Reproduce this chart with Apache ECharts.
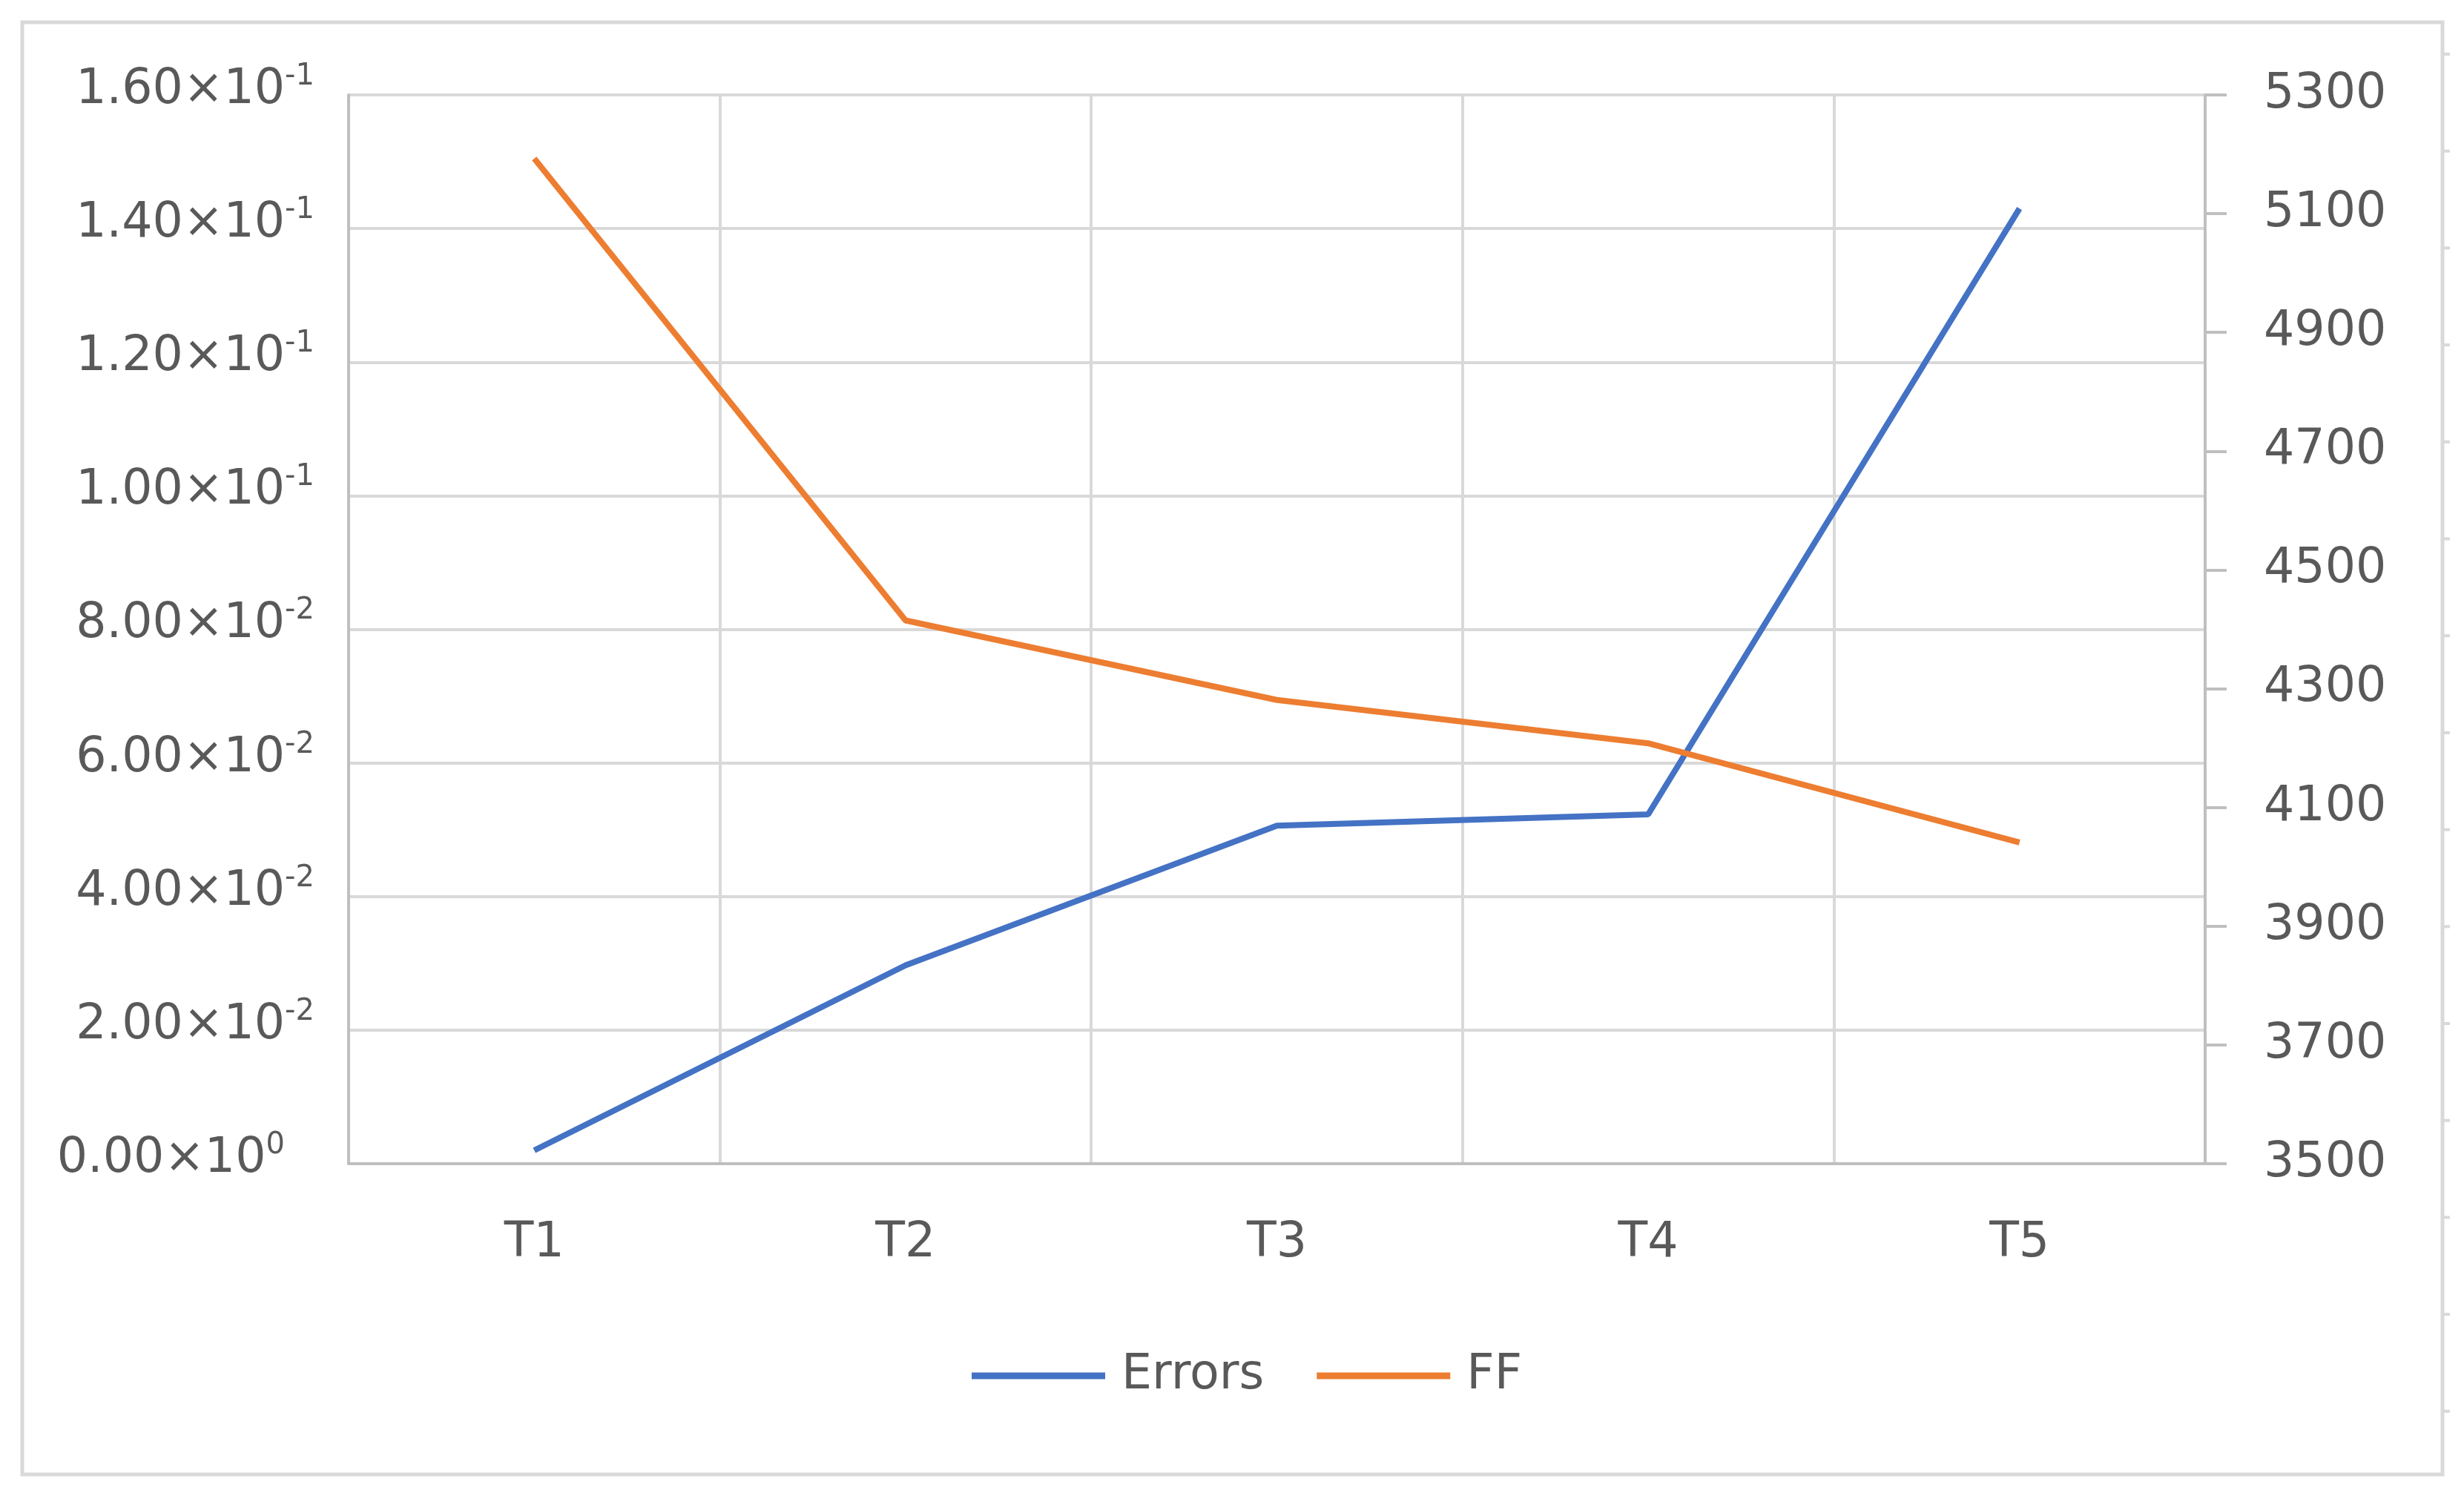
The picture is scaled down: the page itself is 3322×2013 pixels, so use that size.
<!DOCTYPE html>
<html>
<head>
<meta charset="utf-8">
<script src="https://cdn.jsdelivr.net/npm/echarts@6/dist/echarts.min.js"></script>
<style>
  html, body { margin: 0; padding: 0; background: #ffffff; }
  #chart { width: 3322px; height: 2013px; }
</style>
</head>
<body>
<div id="chart"></div>
<script>
// ---- data ----
var categories = ['T1', 'T2', 'T3', 'T4', 'T5'];
var errorsValues = [0.0020, 0.0297, 0.0506, 0.0523, 0.1430];
var ffValues = [5193, 4415, 4281, 4208, 4041];
var seriesNames = ['Errors', 'FF'];
// left axis tick labels (mantissa x 10^exponent)
var leftTickMantissa = ['0.00', '2.00', '4.00', '6.00', '8.00', '1.00', '1.20', '1.40', '1.60'];
var leftTickExponent = ['0', '-2', '-2', '-2', '-2', '-1', '-1', '-1', '-1'];
var rightTickLabels = ['3500', '3700', '3900', '4100', '4300', '4500', '4700', '4900', '5100', '5300'];

var FONT = 'DejaVu Sans';
var LABEL_COLOR = '#595959';
var FS = 65;

var chart = echarts.init(document.getElementById('chart'), null, { renderer: 'canvas' });

var edgeMarks = [];
for (var k = 0; k < 15; k++) {
  edgeMarks.push({
    type: 'line',
    shape: { x1: 3295, y1: 73 + k * 130.7, x2: 3303, y2: 73 + k * 130.7 },
    style: { stroke: '#d9d9d9', lineWidth: 4 }
  });
}

var option = {
  backgroundColor: '#ffffff',
  animation: false,
  textStyle: { fontFamily: FONT },
  graphic: [{
    type: 'rect',
    shape: { x: 30, y: 30, width: 3263, height: 1958 },
    style: { fill: 'none', stroke: '#d9d9d9', lineWidth: 5 },
    z: -1
  }].concat(edgeMarks),
  grid: { left: 470, right: 349, top: 128, bottom: 444, containLabel: false },
  legend: {
    data: seriesNames,
    left: 1305,
    top: 1815,
    icon: 'rect',
    itemWidth: 180,
    itemHeight: 9,
    itemGap: 71,
    textStyle: { fontFamily: FONT, fontSize: FS, color: LABEL_COLOR, lineHeight: 70, padding: [0, 0, 0, 17] }
  },
  xAxis: {
    type: 'category',
    data: categories,
    boundaryGap: true,
    axisLine: { show: true, lineStyle: { color: '#bfbfbf', width: 4 } },
    axisTick: { show: false },
    axisLabel: { fontFamily: FONT, fontSize: FS, color: LABEL_COLOR, margin: 76, interval: 0 },
    splitLine: { show: true, interval: 0, lineStyle: { color: '#d9d9d9', width: 4 } }
  },
  yAxis: [{
    type: 'value',
    position: 'left',
    min: 0,
    max: 0.16,
    interval: 0.02,
    axisLine: { show: true, lineStyle: { color: '#bfbfbf', width: 4 } },
    axisTick: { show: false },
    splitLine: { show: true, lineStyle: { color: '#d9d9d9', width: 4 } },
    axisLabel: {
      margin: 46,
      padding: [0, 0, 12, 0],
      formatter: function (v) {
        var i = Math.round(v / 0.02);
        var sup = i === 0 ? 'z' : 'e';
        return '{m|' + leftTickMantissa[i] + '×10}{' + sup + '|' + leftTickExponent[i] + '}';
      },
      rich: {
        m: { fontFamily: FONT, fontSize: FS, color: LABEL_COLOR, lineHeight: 65 },
        e: { fontFamily: FONT, fontSize: 40, color: LABEL_COLOR, lineHeight: 40, padding: [0, 0, 37, 0] },
        z: { fontFamily: FONT, fontSize: 40, color: LABEL_COLOR, lineHeight: 40, padding: [0, 40, 37, 0] }
      }
    }
  }, {
    type: 'value',
    position: 'right',
    min: 3500,
    max: 5300,
    interval: 200,
    axisLine: { show: true, lineStyle: { color: '#bfbfbf', width: 4 } },
    axisTick: { show: true, inside: false, length: 29, lineStyle: { color: '#bfbfbf', width: 4 } },
    splitLine: { show: false },
    axisLabel: {
      margin: 79,
      padding: [0, 0, 12, 0],
      fontFamily: FONT, fontSize: FS, color: LABEL_COLOR,
      formatter: function (v) {
        var i = Math.round((v - 3500) / 200);
        return rightTickLabels[i];
      }
    }
  }],
  series: [{
    name: seriesNames[0],
    type: 'line',
    yAxisIndex: 0,
    data: errorsValues,
    symbol: 'none',
    lineStyle: { color: '#4472c4', width: 8 },
    itemStyle: { color: '#4472c4' }
  }, {
    name: seriesNames[1],
    type: 'line',
    yAxisIndex: 1,
    data: ffValues,
    symbol: 'none',
    lineStyle: { color: '#ed7d31', width: 8 },
    itemStyle: { color: '#ed7d31' }
  }]
};
chart.setOption(option);
</script>
</body>
</html>
